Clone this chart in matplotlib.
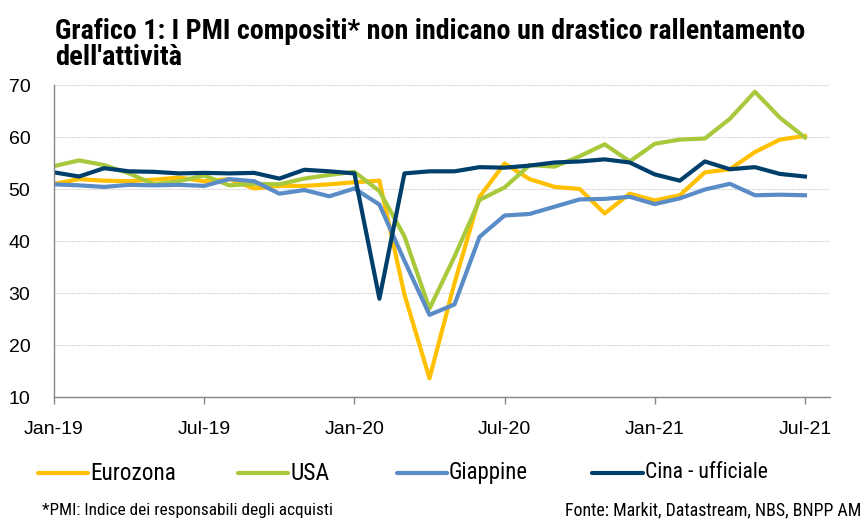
import matplotlib
matplotlib.use("Agg")
import matplotlib.pyplot as plt
from matplotlib import font_manager
from matplotlib.lines import Line2D

# monthly composite PMI, Jan-19 .. Jul-21
months = ["Jan-19", "Feb-19", "Mar-19", "Apr-19", "May-19", "Jun-19",
          "Jul-19", "Aug-19", "Sep-19", "Oct-19", "Nov-19", "Dec-19",
          "Jan-20", "Feb-20", "Mar-20", "Apr-20", "May-20", "Jun-20",
          "Jul-20", "Aug-20", "Sep-20", "Oct-20", "Nov-20", "Dec-20",
          "Jan-21", "Feb-21", "Mar-21", "Apr-21", "May-21", "Jun-21",
          "Jul-21"]

eurozona = [51.0, 51.9, 51.6, 51.5, 51.8, 52.2, 51.5, 51.9, 50.1, 50.6, 50.6, 50.9,
            51.3, 51.6, 29.7, 13.6, 31.9, 48.5, 54.9, 51.9, 50.4, 50.0, 45.3, 49.1,
            47.8, 48.8, 53.2, 53.8, 57.1, 59.5, 60.2]
usa = [54.4, 55.5, 54.6, 53.0, 50.9, 51.5, 52.6, 50.7, 51.0, 50.9, 52.0, 52.7,
       53.3, 49.6, 40.9, 27.0, 37.0, 47.9, 50.3, 54.6, 54.3, 56.3, 58.6, 55.3,
       58.7, 59.5, 59.7, 63.5, 68.7, 63.7, 59.9]
giappone = [50.9, 50.7, 50.4, 50.8, 50.7, 50.8, 50.6, 51.9, 51.5, 49.1, 49.8, 48.6,
            50.1, 47.0, 36.2, 25.8, 27.8, 40.8, 44.9, 45.2, 46.6, 48.0, 48.1, 48.5,
            47.1, 48.2, 49.9, 51.0, 48.8, 48.9, 48.8]
cina = [53.2, 52.4, 54.0, 53.4, 53.3, 53.0, 53.1, 53.0, 53.1, 52.0, 53.7, 53.4,
        53.0, 28.9, 53.0, 53.4, 53.4, 54.2, 54.1, 54.5, 55.1, 55.3, 55.7, 55.1,
        52.8, 51.6, 55.3, 53.8, 54.2, 52.9, 52.4]

names = ["Eurozona", "USA", "Giappine", "Cina - ufficiale"]
colors = ["#FFC000", "#A8C93B", "#5A8CC8", "#003F6B"]
values = [eurozona, usa, giappone, cina]

W, H = 868, 525
installed = {f.name for f in font_manager.fontManager.ttflist}
narrow = next((n for n in ["Liberation Sans Narrow", "Arial Narrow", "Roboto Condensed",
                           "PT Sans Narrow", "Archivo Narrow", "Asap Condensed"]
               if n in installed), "Liberation Sans")
plt.rcParams["font.family"] = ["Liberation Sans", "DejaVu Sans"]

fig = plt.figure(figsize=(W / 100, H / 100), dpi=100)
ax = fig.add_axes([54 / W, 1 - 397 / H, (830 - 54) / W, (397 - 85) / H])

x = list(range(len(months)))
for name, vals, color in zip(names, values, colors):
    ax.plot(x, vals, color=color, lw=3.0, label=name)

ax.set_xlim(0, 31)
ax.set_ylim(10, 70)
ax.set_yticks(range(10, 71, 10))
tick_pos = list(range(0, 31, 6))
ax.set_xticks(tick_pos)
ax.set_xticklabels([months[i] for i in tick_pos])
ax.tick_params(axis="x", length=5, width=1, color="#868686", labelsize=14, pad=12)
ax.tick_params(axis="y", length=0, labelsize=14, pad=17)

ax.grid(axis="y", color="#C8C8C8", lw=0.8, ls=(0, (1, 1)))
ax.set_axisbelow(True)
for side in ("top", "right"):
    ax.spines[side].set_visible(False)
for side in ("left", "bottom"):
    ax.spines[side].set_color("#868686")
    ax.spines[side].set_linewidth(1)

renderer = fig.canvas.get_renderer()


def put_text(px, py, s, target_w, size, **kw):
    """Place text at pixel coords; shrink it if it runs wider than the reference."""
    t = fig.text(px / W, 1 - py / H, s, fontsize=size, family=[narrow, "DejaVu Sans"], **kw)
    w = t.get_window_extent(renderer).width
    t.set_fontsize(min(size, size * target_w / w))
    return t


# title, two lines on their own baselines
put_text(55, 39, "Grafico 1: I PMI compositi* non indicano un drastico rallentamento",
         753, 20.5, fontweight="bold", va="baseline")
put_text(55, 65, "dell'attività", 152, 20.5, fontweight="bold", va="baseline")

# legend drawn by hand so each entry sits where the reference puts it
legend_x = [(38, 88), (238, 288), (397, 447), (592, 643)]
legend_w = [86, 42, 79, 123]
for (x0, x1), name, color, tw in zip(legend_x, names, colors, legend_w):
    fig.add_artist(Line2D([x0 / W, x1 / W], [1 - 473 / H] * 2, color=color, lw=3.0,
                          solid_capstyle="round"))
    put_text(x1 + 2, 473, name, tw, 17, va="center")

put_text(42, 510, "*PMI: Indice dei responsabili degli acquisti", 291, 13.5, va="center")
put_text(565, 510, "Fonte: Markit, Datastream, NBS, BNPP AM", 295, 13.5, va="center")

fig.savefig("out.png", dpi=100)
